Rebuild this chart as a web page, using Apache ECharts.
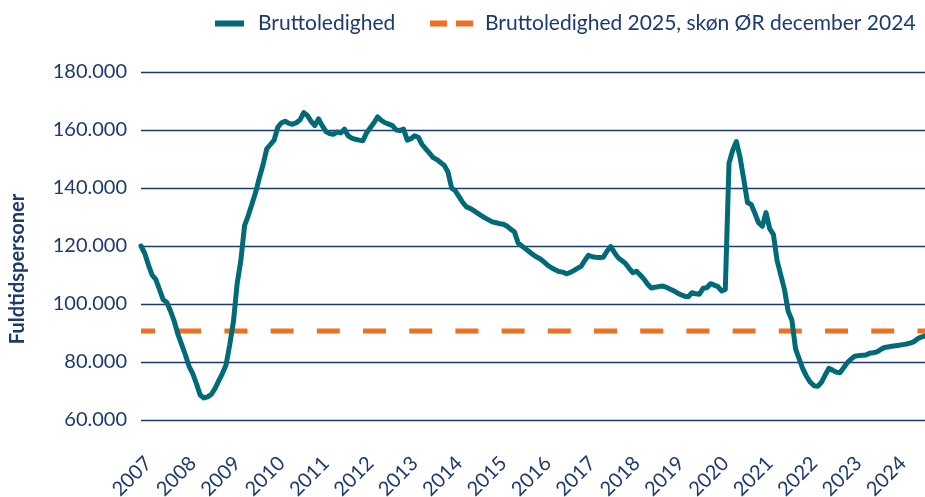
<!DOCTYPE html>
<html lang="da">
<head>
<meta charset="utf-8">
<title>Bruttoledighed</title>
<script src="https://cdn.jsdelivr.net/npm/echarts@6/dist/echarts.min.js"></script>
<style>
  html, body { margin: 0; padding: 0; background: #ffffff; }
  #chart { width: 925px; height: 497px; }
</style>
</head>
<body>
<div id="chart"></div>
<script>
// Monthly gross unemployment (full-time persons), Nov 2006 – Jul 2024
const startYear = 2006;
const startMonth = 11;
const bruttoledighed = [
  120.0, 117.5, 113.5, 110.0, 108.5, 105.0, 101.5, 100.5, 97.5, 94.0,
  89.5, 86.0, 82.5, 78.5, 76.0, 72.5, 68.6, 67.6, 68.0, 68.8,
  70.8, 73.5, 76.0, 79.0, 86.0, 94.0, 107.0, 115.0, 127.0, 130.5,
  134.5, 138.5, 143.5, 148.0, 153.5, 155.0, 156.5, 161.0, 162.5, 163.0,
  162.3, 162.0, 162.5, 163.5, 166.0, 165.0, 163.0, 161.5, 163.8, 161.5,
  159.5, 158.8, 158.5, 159.3, 159.0, 160.3, 158.0, 157.2, 156.8, 156.5,
  156.3, 159.0, 160.8, 162.5, 164.5, 163.3, 162.5, 162.0, 161.5, 160.0,
  159.8, 160.3, 156.5, 157.0, 158.0, 157.5, 155.0, 153.5, 152.0, 150.5,
  149.8, 148.8, 147.8, 145.5, 140.0, 139.0, 137.0, 135.0, 133.5, 133.0,
  132.2, 131.3, 130.5, 129.7, 129.0, 128.3, 128.0, 127.7, 127.5, 126.8,
  125.8, 124.8, 121.0, 120.0, 119.0, 118.0, 117.0, 116.2, 115.5, 114.5,
  113.3, 112.5, 111.8, 111.2, 111.0, 110.4, 110.8, 111.5, 112.3, 113.0,
  115.0, 116.8, 116.3, 116.1, 116.0, 116.1, 118.2, 119.8, 117.8, 116.0,
  115.0, 114.0, 112.3, 110.8, 111.3, 110.0, 108.6, 106.8, 105.5, 105.8,
  106.0, 106.2, 105.8, 105.2, 104.6, 103.8, 103.2, 102.7, 102.5, 103.9,
  103.5, 103.4, 105.4, 105.6, 107.0, 106.5, 106.0, 104.5, 105.0, 148.5,
  153.0, 156.0, 150.5, 143.0, 135.0, 134.3, 131.3, 128.0, 126.8, 131.5,
  126.0, 124.0, 115.0, 110.0, 105.0, 97.5, 94.5, 84.5, 81.0, 77.5,
  75.0, 73.0, 71.8, 71.6, 73.0, 75.5, 77.8, 77.2, 76.5, 76.3,
  78.0, 79.8, 81.0, 82.0, 82.2, 82.3, 82.4, 83.0, 83.2, 83.5,
  84.3, 85.0, 85.2, 85.4, 85.6, 85.8, 86.0, 86.2, 86.5, 87.0,
  88.0, 88.6, 89.0
].map(v => v * 1000);

// Forecast level for 2025
const skoen2025 = 90700;

// Y axis ticks
const yMin = 60000;
const yMax = 180000;
const yStep = 20000;

// Month categories, e.g. "2007-01"
const months = bruttoledighed.map((_, i) => {
  const m = startMonth - 1 + i;
  const y = startYear + Math.floor(m / 12);
  const mm = (m % 12) + 1;
  return y + '-' + String(mm).padStart(2, '0');
});
const skoenSeries = months.map(() => skoen2025);

const navy = '#1c3a6e';
const teal = '#006a78';
const orange = '#f07021';
const fontFamily = 'Lato, "Open Sans", sans-serif';

const fmtThousands = v => String(v).replace(/\B(?=(\d{3})+(?!\d))/g, '.');

const chart = echarts.init(document.getElementById('chart'), null, { renderer: 'canvas' });
chart.setOption({
  animation: false,
  backgroundColor: '#ffffff',
  textStyle: { fontFamily: fontFamily, color: navy },
  grid: { left: 141, right: 0, top: 72, bottom: 77, containLabel: false, outerBoundsMode: 'none' },
  legend: [
    {
      left: 210, top: 8,
      itemWidth: 29, itemHeight: 6, itemGap: 0,
      data: [{ name: 'Bruttoledighed', icon: 'rect' }],
      textStyle: { fontSize: 21, color: navy, padding: [0, 0, 0, 9], fontFamily: fontFamily }
    },
    {
      left: 425, top: 8,
      itemWidth: 43, itemHeight: 6, itemGap: 0,
      data: [{ name: 'Bruttoledighed 2025, skøn ØR december 2024', icon: 'path://M0,0H17V6H0Z M26,0H43V6H26Z' }],
      textStyle: { fontSize: 21, color: navy, padding: [0, 0, 0, 7], fontFamily: fontFamily }
    }
  ],
  xAxis: {
    type: 'category',
    data: months,
    boundaryGap: false,
    axisLine: { show: false },
    axisTick: { show: false },
    splitLine: { show: false },
    axisLabel: {
      rotate: 45,
      margin: 40,
      fontSize: 20,
      color: navy,
      fontFamily: fontFamily,
      interval: (idx, val) => val.endsWith('-01'),
      formatter: val => val.slice(0, 4)
    }
  },
  yAxis: {
    type: 'value',
    min: yMin,
    max: yMax,
    interval: yStep,
    axisLine: { show: false },
    axisTick: { show: false },
    axisLabel: {
      margin: 14,
      fontSize: 20,
      color: navy,
      fontFamily: fontFamily,
      formatter: fmtThousands
    },
    splitLine: { lineStyle: { color: navy, width: 1.3 } }
  },
  graphic: [{
    type: 'text',
    x: 18, y: 269,
    rotation: Math.PI / 2,
    style: {
      text: 'Fuldtidspersoner',
      fontSize: 20,
      fontWeight: 'bold',
      fontFamily: fontFamily,
      fill: navy,
      align: 'center',
      verticalAlign: 'middle'
    }
  }],
  series: [
    {
      name: 'Bruttoledighed',
      type: 'line',
      data: bruttoledighed,
      showSymbol: false,
      smooth: false,
      z: 3,
      itemStyle: { color: teal },
      lineStyle: { color: teal, width: 5, join: 'round', cap: 'round' }
    },
    {
      name: 'Bruttoledighed 2025, skøn ØR december 2024',
      type: 'line',
      data: skoenSeries,
      showSymbol: false,
      z: 2,
      itemStyle: { color: orange },
      lineStyle: { color: orange, width: 5, type: [23, 23.2], dashOffset: 9, cap: 'butt' }
    }
  ]
});
</script>
</body>
</html>
